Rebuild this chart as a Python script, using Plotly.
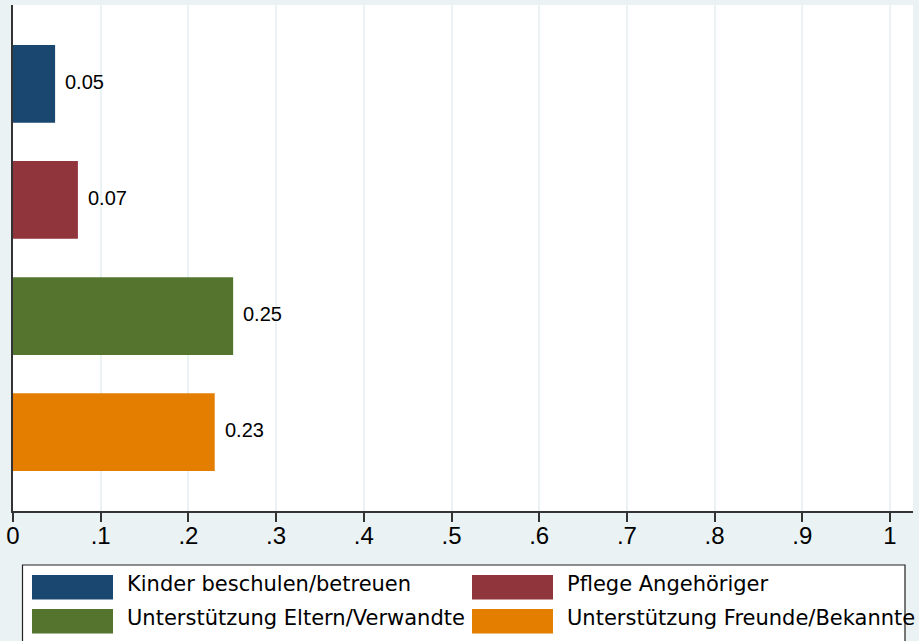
import plotly.graph_objects as go

categories = ["Kinder beschulen/betreuen", "Pflege Angehöriger",
              "Unterstützung Eltern/Verwandte", "Unterstützung Freunde/Bekannte"]
values = [0.048, 0.074, 0.251, 0.230]
value_labels = ["0.05", "0.07", "0.25", "0.23"]
colors = ["#1A476F", "#90353B", "#55752F", "#E37E00"]
tick_vals = [0, 0.1, 0.2, 0.3, 0.4, 0.5, 0.6, 0.7, 0.8, 0.9, 1.0]
tick_text = ["0", ".1", ".2", ".3", ".4", ".5", ".6", ".7", ".8", ".9", "1"]

W, H = 919, 641
L, R, T, B = 13, 6, 5, 130
pw, ph = W - L - R, H - T - B

def px_x(p):
    return (p - L) / pw

def px_y(p):
    return (H - B - p) / ph

FONT = "Liberation Sans, Arial, sans-serif"
LEG_FONT = "DejaVu Sans, sans-serif"

fig = go.Figure()
fig.add_trace(go.Bar(
    x=values, y=categories, orientation="h",
    marker=dict(color=colors, line=dict(width=0)),
    width=0.67, showlegend=False, hoverinfo="x+y",
))
for c, v, t in zip(categories, values, value_labels):
    fig.add_annotation(x=v, y=c, text=t, showarrow=False, xanchor="left",
                       xshift=8, yshift=2, font=dict(size=20, color="black", family=FONT))

# legend drawn manually
shapes = [dict(type="rect", xref="paper", yref="paper",
               x0=px_x(22.5), x1=px_x(905), y0=px_y(565), y1=px_y(660),
               fillcolor="white", line=dict(color="#222222", width=1.2), layer="above")]
col_x = [32, 472]
row_y = [575, 609]
for i, (c, col) in enumerate(zip(categories, colors)):
    cx = col_x[i % 2]
    ry = row_y[i // 2]
    shapes.append(dict(type="rect", xref="paper", yref="paper",
                       x0=px_x(cx), x1=px_x(cx + 81), y0=px_y(ry), y1=px_y(ry + 24.5),
                       fillcolor=col, line=dict(width=0), layer="above"))
    fig.add_annotation(xref="paper", yref="paper", x=px_x(cx + 93), y=px_y(ry + 9),
                       text=c, showarrow=False, xanchor="left", yanchor="middle",
                       font=dict(size=21, color="black", family=LEG_FONT))

fig.update_layout(
    width=W, height=H,
    margin=dict(l=L, r=R, t=T, b=B),
    paper_bgcolor="#EAF2F3", plot_bgcolor="white",
    shapes=shapes,
    font=dict(family=FONT, color="black"),
    xaxis=dict(range=[0, pw / 877], tickvals=tick_vals, ticktext=tick_text,
               showgrid=True, gridcolor="#EAF2F3", gridwidth=2,
               showline=True, linecolor="#333333", linewidth=2,
               ticks="outside", ticklen=9, tickwidth=2, tickcolor="#333333",
               ticklabelstandoff=-7,
               tickfont=dict(size=24, family=FONT), zeroline=False, fixedrange=True),
    yaxis=dict(categoryorder="array", categoryarray=categories,
               range=[3.68, -0.68], showticklabels=False, ticks="",
               showgrid=False, showline=True, linecolor="#333333", linewidth=2,
               zeroline=False),
    bargap=0.33,
)
fig.write_html("out.html", config={"displayModeBar": False},
               post_script="document.body.style.margin='0';document.body.style.overflow='hidden';")
